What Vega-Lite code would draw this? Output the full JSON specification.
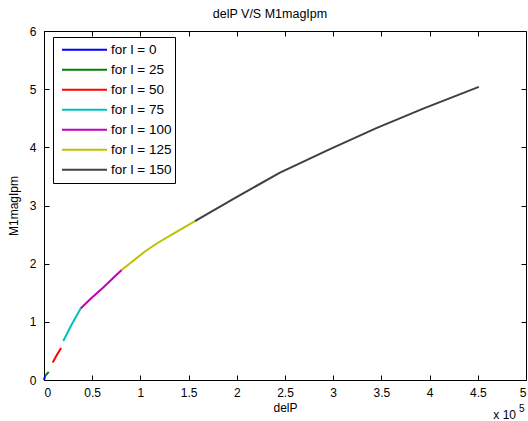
{
  "$schema": "https://vega.github.io/schema/vega-lite/v6.json",
  "width": 482,
  "height": 349,
  "autosize": {"type": "none"},
  "padding": {"left": 44, "top": 31, "right": 2, "bottom": 41},
  "background": "white",
  "title": {"text": "delP V/S M1magIpm", "fontSize": 12.5, "fontWeight": "normal", "font": "Liberation Sans", "offset": 5, "anchor": "middle", "dx": -15, "color": "black"},
  "config": {
    "view": {"stroke": "black", "strokeWidth": 1},
    "axis": {
      "domain": false, "ticks": false,
      "grid": true, "gridColor": "black", "gridOpacity": 1, "gridWidth": 1,
      "labelFont": "Liberation Sans", "labelFontSize": 12, "labelColor": "black",
      "titleFont": "Liberation Sans", "titleFontSize": 12, "titleFontWeight": "normal", "titleColor": "black"
    }
  },
  "data": {"values": [
    {"l": 0, "delP": 0, "M1magIpm": 0},
    {"l": 0, "delP": 1180, "M1magIpm": 0.07},
    {"l": 25, "delP": 1180, "M1magIpm": 0.07},
    {"l": 25, "delP": 4930, "M1magIpm": 0.14},
    {"l": 50, "delP": 9060, "M1magIpm": 0.30},
    {"l": 50, "delP": 13300, "M1magIpm": 0.43},
    {"l": 50, "delP": 17730, "M1magIpm": 0.55},
    {"l": 75, "delP": 20000, "M1magIpm": 0.67},
    {"l": 75, "delP": 28570, "M1magIpm": 0.95},
    {"l": 75, "delP": 38020, "M1magIpm": 1.23},
    {"l": 100, "delP": 38020, "M1magIpm": 1.23},
    {"l": 100, "delP": 49250, "M1magIpm": 1.41},
    {"l": 100, "delP": 61460, "M1magIpm": 1.59},
    {"l": 100, "delP": 70920, "M1magIpm": 1.74},
    {"l": 100, "delP": 80570, "M1magIpm": 1.89},
    {"l": 125, "delP": 80570, "M1magIpm": 1.89},
    {"l": 125, "delP": 92590, "M1magIpm": 2.05},
    {"l": 125, "delP": 104700, "M1magIpm": 2.21},
    {"l": 125, "delP": 118200, "M1magIpm": 2.36},
    {"l": 125, "delP": 137900, "M1magIpm": 2.55},
    {"l": 125, "delP": 156600, "M1magIpm": 2.73},
    {"l": 150, "delP": 156600, "M1magIpm": 2.73},
    {"l": 150, "delP": 197000, "M1magIpm": 3.12},
    {"l": 150, "delP": 244300, "M1magIpm": 3.56},
    {"l": 150, "delP": 295500, "M1magIpm": 3.96},
    {"l": 150, "delP": 344750, "M1magIpm": 4.33},
    {"l": 150, "delP": 394000, "M1magIpm": 4.67},
    {"l": 150, "delP": 451100, "M1magIpm": 5.04}
  ]},
  "layer": [
    {
      "mark": {"type": "line", "strokeWidth": 2},
      "encoding": {
        "x": {"field": "delP", "type": "quantitative", "scale": {"domain": [0, 500000], "nice": false},
          "axis": {"orient": "bottom", "values": [0, 50000, 100000, 150000, 200000, 250000, 300000, 350000, 400000, 450000, 500000],
            "gridDash": [5, 339],
            "labelExpr": "'' + datum.value / 100000", "labelPadding": 7, "title": "delP", "titlePadding": 4}},
        "y": {"field": "M1magIpm", "type": "quantitative", "scale": {"domain": [0, 6], "nice": false},
          "axis": {"orient": "left", "values": [0, 1, 2, 3, 4, 5, 6], "gridDash": [5, 472], "labelPadding": 8, "title": "M1magIpm", "titlePadding": 9}},
        "color": {"field": "l", "type": "nominal",
          "scale": {"domain": [0, 25, 50, 75, 100, 125, 150], "range": ["#0000ff", "#008000", "#ff0000", "#00bfbf", "#bf00bf", "#bfbf00", "#404040"]},
          "legend": {"orient": "none", "legendX": 9, "legendY": 6, "title": null, "symbolType": "stroke", "symbolSize": 2025, "symbolStrokeWidth": 2,
            "symbolOffset": 5,
            "labelExpr": "'for l = ' + datum.label", "labelFont": "Liberation Sans", "labelFontSize": 13.5, "labelColor": "black",
            "strokeColor": "black", "fillColor": "white", "padding": 3, "clipHeight": 19.3, "rowPadding": 0, "labelOffset": 3}}
      }
    },
    {
      "data": {"values": [{"t": "x 10"}]},
      "mark": {"type": "text", "align": "right", "baseline": "alphabetic", "font": "Liberation Sans", "fontSize": 12, "color": "black", "dx": -10, "dy": 39},
      "encoding": {"x": {"datum": 500000, "type": "quantitative", "axis": null}, "y": {"datum": 0, "type": "quantitative", "axis": null}, "text": {"field": "t"}}
    },
    {
      "data": {"values": [{"t": "5"}]},
      "mark": {"type": "text", "align": "left", "baseline": "alphabetic", "font": "Liberation Sans", "fontSize": 10, "color": "black", "dx": -7, "dy": 32},
      "encoding": {"x": {"datum": 500000, "type": "quantitative", "axis": null}, "y": {"datum": 0, "type": "quantitative", "axis": null}, "text": {"field": "t"}}
    }
  ],
  "resolve": {"axis": {"x": "independent", "y": "independent"}}
}
